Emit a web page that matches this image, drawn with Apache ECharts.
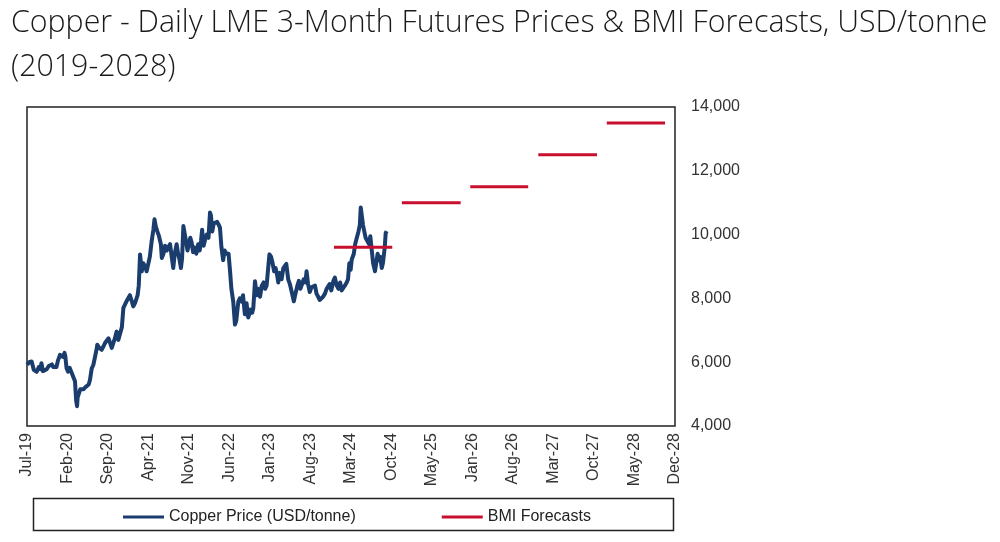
<!DOCTYPE html>
<html>
<head>
<meta charset="utf-8">
<script src="https://cdn.jsdelivr.net/npm/echarts@6/dist/echarts.min.js"></script>
<style>
html,body{margin:0;padding:0;background:#fff;}
#chart{width:1000px;height:542px;}
</style>
</head>
<body>
<div id="chart"></div>
<script>
// ---- Data ----
const axisStart = '2019-07-01';
const axisDays = 3456;           // Jul-19 .. Dec-28
const tickStepDays = 216;        // spacing of date labels

const priceDates = [
'2019-07-02','2019-07-12','2019-07-19','2019-07-26','2019-08-06','2019-08-14','2019-08-22','2019-09-02','2019-09-10','2019-09-16',
'2019-09-24','2019-10-03','2019-10-14','2019-10-25','2019-11-01','2019-11-11','2019-11-18','2019-11-28','2019-12-05','2019-12-13',
'2019-12-24','2020-01-08','2020-01-17','2020-01-21','2020-01-28','2020-02-05','2020-02-14','2020-02-24','2020-03-05','2020-03-13',
'2020-03-19','2020-03-24','2020-03-27','2020-04-02','2020-04-10','2020-04-18','2020-04-28','2020-05-08','2020-05-15','2020-05-25',
'2020-06-01','2020-06-10','2020-06-19','2020-06-26','2020-07-06','2020-07-10','2020-07-20','2020-08-02','2020-08-12','2020-08-20',
'2020-08-29','2020-09-08','2020-09-16','2020-09-25','2020-10-03','2020-10-12','2020-10-21','2020-10-30','2020-11-08','2020-11-18',
'2020-11-26','2020-12-04','2020-12-12','2020-12-22','2020-12-31','2021-01-08','2021-01-18','2021-01-27','2021-02-02','2021-02-10',
'2021-02-16','2021-02-23','2021-03-04','2021-03-12','2021-03-22','2021-03-30','2021-04-08','2021-04-16','2021-04-26','2021-05-05',
'2021-05-11','2021-05-18','2021-05-26','2021-06-04','2021-06-14','2021-06-19','2021-06-28','2021-07-06','2021-07-15','2021-07-23',
'2021-08-02','2021-08-11','2021-08-19','2021-08-27','2021-09-06','2021-09-14','2021-09-22','2021-09-29','2021-10-05','2021-10-12',
'2021-10-18','2021-10-26','2021-11-03','2021-11-10','2021-11-18','2021-11-25','2021-12-03','2021-12-10','2021-12-20','2021-12-30',
'2022-01-07','2022-01-14','2022-01-20','2022-01-28','2022-02-07','2022-02-14','2022-02-23','2022-03-03','2022-03-08','2022-03-15',
'2022-03-23','2022-04-01','2022-04-10','2022-04-19','2022-04-25','2022-05-03','2022-05-12','2022-05-20','2022-05-30','2022-06-10',
'2022-06-18','2022-06-25','2022-07-05','2022-07-14','2022-07-21','2022-08-01','2022-08-09','2022-08-18','2022-08-26','2022-09-05',
'2022-09-14','2022-09-23','2022-09-28','2022-10-06','2022-10-14','2022-10-20','2022-10-29','2022-11-07','2022-11-16','2022-11-25',
'2022-12-04','2022-12-14','2022-12-22','2022-12-30','2023-01-08','2023-01-14','2023-01-23','2023-01-31','2023-02-08','2023-02-16',
'2023-02-25','2023-03-02','2023-03-10','2023-03-20','2023-03-29','2023-04-07','2023-04-14','2023-04-24','2023-05-03','2023-05-13',
'2023-05-24','2023-06-02','2023-06-12','2023-06-20','2023-06-28','2023-07-07','2023-07-16','2023-07-25','2023-07-31','2023-08-08',
'2023-08-17','2023-08-26','2023-09-05','2023-09-14','2023-09-22','2023-10-01','2023-10-09','2023-10-18','2023-10-27','2023-11-06',
'2023-11-15','2023-11-23','2023-12-01','2023-12-10','2023-12-21','2023-12-29','2024-01-08','2024-01-17','2024-01-26','2024-02-03',
'2024-02-10','2024-02-20','2024-03-01','2024-03-08','2024-03-15','2024-03-22','2024-03-28','2024-04-08','2024-04-15','2024-04-24',
'2024-05-03','2024-05-10','2024-05-15','2024-05-20','2024-05-27','2024-06-03','2024-06-10','2024-06-20','2024-06-28','2024-07-05',
'2024-07-12','2024-07-20','2024-07-30','2024-08-06','2024-08-13','2024-08-20','2024-08-27','2024-09-04','2024-09-10','2024-09-16',
'2024-09-20','2024-09-25','2024-09-30'
];
const priceValues = [
5920,6000,5950,6020,5760,5800,5700,5850,5780,5970,
5720,5700,5780,5880,5860,5930,5850,5880,5850,6050,
6230,6170,6290,6200,5810,5700,5820,5670,5650,5400,
4800,4620,4900,4950,5150,5200,5150,5220,5180,5300,
5450,5800,5920,5950,6400,6550,6450,6390,6500,6600,
6650,6750,6800,6450,6600,6750,6960,6700,6760,7100,
7700,7650,7900,7900,8100,8100,7750,7850,7800,8100,
8400,9380,8850,9100,9000,8850,8900,9300,9800,10150,
10480,10250,10100,9950,9700,9270,9400,9650,9500,9600,
9700,9300,8950,9400,9700,9400,9200,8950,9250,10270,
10300,9800,9500,9700,9900,9750,9450,9600,9400,9700,
9500,9800,10150,9650,9900,10000,9900,10690,10600,10100,
10350,10300,10400,10300,10220,9600,9200,9500,9400,9400,
8850,8300,7900,7180,7300,7900,8000,7900,8100,7500,
7850,7400,7350,7650,7550,7700,8540,8100,8300,8050,
8400,8500,8300,8400,9000,9380,9300,9100,8850,8950,
8700,8500,8800,8600,8950,8900,9080,8600,8450,8200,
7910,8150,8400,8550,8300,8300,8600,8500,8850,8450,
8200,8350,8300,8400,8150,8050,7950,7900,8050,8150,
8300,8350,8450,8250,8550,8650,8400,8300,8500,8250,
8200,8400,8500,8600,9100,8900,9220,9400,9700,9900,
10100,10300,10850,10900,10300,10300,9900,9950,9700,9950,
9550,9100,8850,8900,9400,9200,9300,8950,9100,9400,
9600,10050,10110
];

// BMI annual forecasts (segments)
const forecastStart = ['2023-12-24','2024-12-20','2025-12-20','2026-12-18','2027-12-18'];
const forecastEnd   = ['2024-10-30','2025-10-30','2026-10-25','2027-10-27','2028-10-24'];
const forecastValues = [9600, 11000, 11500, 12500, 13500];

const yMin = 4000, yMax = 14000, yStep = 2000;
const monthNames = ['Jan','Feb','Mar','Apr','May','Jun','Jul','Aug','Sep','Oct','Nov','Dec'];

// ---- helpers ----
const DAY = 86400000;
const t0 = Date.parse(axisStart + 'T00:00:00Z');
const toDay = s => (Date.parse(s + 'T00:00:00Z') - t0) / DAY;
const fmtDay = v => {
  const d = new Date(t0 + Math.round(v) * DAY);
  return monthNames[d.getUTCMonth()] + '-' + String(d.getUTCFullYear()).slice(2);
};

const priceData = priceDates.map((d, i) => [toDay(d), priceValues[i]]);
const forecastData = [];
forecastValues.forEach((v, i) => {
  forecastData.push([toDay(forecastStart[i]), v]);
  forecastData.push([toDay(forecastEnd[i]), v]);
  if (i < forecastValues.length - 1) forecastData.push([toDay(forecastEnd[i]) + 1, '-']);
});

const chart = echarts.init(document.getElementById('chart'), null, {renderer: 'canvas'});
const labelFont = {fontFamily: '"Liberation Sans", Arial, sans-serif', fontSize: 16, color: '#333'};

chart.setOption({
  animation: false,
  backgroundColor: '#fff',
  title: {
    text: 'Copper - Daily LME 3-Month Futures Prices & BMI Forecasts, USD/tonne\n(2019-2028)',
    left: 11, top: 1, padding: 0,
    textStyle: {fontFamily: '"Open Sans", sans-serif', fontWeight: 300, fontSize: 30.3, lineHeight: 44, color: '#1a1a1a'}
  },
  grid: {
    left: 27, top: 107, right: 325, bottom: 116,
    show: true, borderColor: '#222', borderWidth: 1.5, backgroundColor: '#fff'
  },
  legend: {
    left: 123, top: 508, padding: 0, itemWidth: 41, itemHeight: 3, itemGap: 86,
    icon: 'rect',
    textStyle: Object.assign({}, labelFont, {color: '#222', lineHeight: 18}),
    data: ['Copper Price (USD/tonne)', 'BMI Forecasts']
  },
  graphic: [{
    type: 'rect', shape: {x: 33.5, y: 498.5, width: 640, height: 32},
    style: {fill: 'none', stroke: '#222', lineWidth: 1.5}, z: -1
  }],
  xAxis: {
    type: 'value', min: 0, max: axisDays, interval: tickStepDays,
    axisLine: {show: false}, axisTick: {show: false}, splitLine: {show: false},
    axisLabel: Object.assign({rotate: 90, margin: 7, formatter: fmtDay, showMinLabel: true, showMaxLabel: true}, labelFont)
  },
  yAxis: {
    type: 'value', position: 'right', min: yMin, max: yMax, interval: yStep,
    axisLine: {show: false}, axisTick: {show: false}, splitLine: {show: false},
    axisLabel: Object.assign({margin: 16, formatter: v => v.toLocaleString('en-US')}, labelFont)
  },
  series: [
    {
      name: 'Copper Price (USD/tonne)', type: 'line', data: priceData,
      showSymbol: false, symbol: 'none', color: '#1b3d6e',
      lineStyle: {width: 4, color: '#1b3d6e', join: 'round'}, z: 2
    },
    {
      name: 'BMI Forecasts', type: 'line', data: forecastData,
      showSymbol: false, symbol: 'none', connectNulls: false, color: '#c8102e',
      lineStyle: {width: 3, color: '#c8102e'}, z: 3
    }
  ]
});
</script>
</body>
</html>
